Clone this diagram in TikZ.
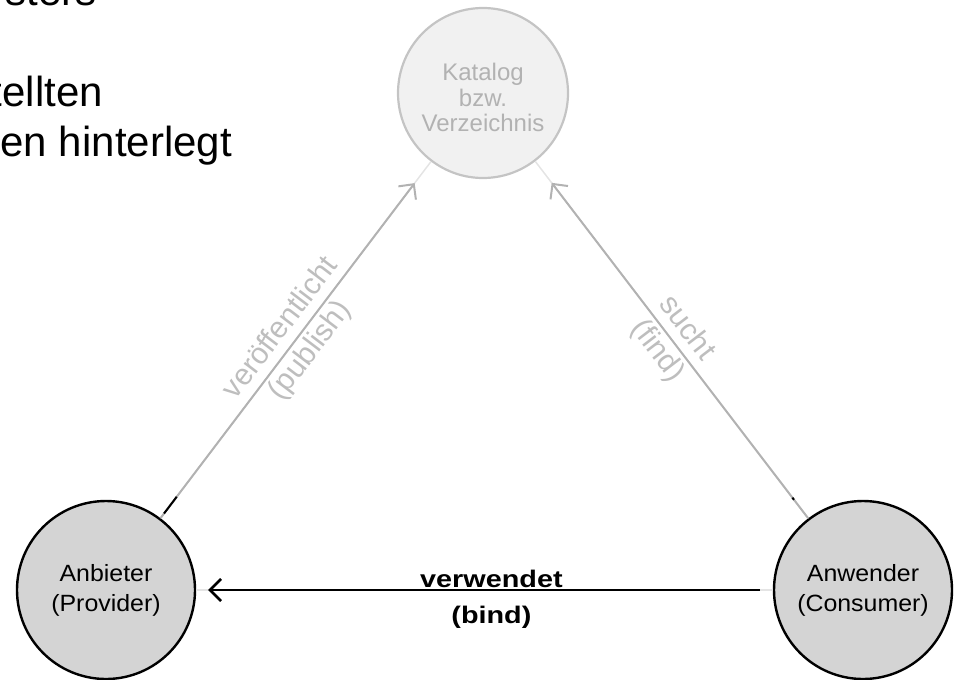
\documentclass[tikz,border=0pt]{standalone}
\usepackage{fontspec}
\setmainfont{Liberation Sans}
\newfontfamily\circfont[FakeStretch=1.06]{Liberation Sans}
\newfontfamily\bindfont[FakeStretch=1.2]{Liberation Sans}
\usetikzlibrary{arrows.meta}

\definecolor{hubfill}{RGB}{212,212,212}
\definecolor{catfill}{RGB}{241,241,241}
\definecolor{catline}{RGB}{196,196,196}
\definecolor{cattext}{RGB}{178,178,178}
\definecolor{linkgray}{RGB}{178,178,178}
\definecolor{labelgray}{RGB}{190,190,190}
\definecolor{faint}{RGB}{228,228,228}

\tikzset{
  hub/.style={circle, draw=black, line width=2.4pt, fill=hubfill,
    minimum size=178pt, inner sep=0pt, align=center,
    font={\circfont\fontsize{23.5}{30}\selectfont}},
  catalog/.style={circle, draw=catline, line width=2.2pt, fill=catfill,
    text=cattext, minimum size=170pt, inner sep=0pt, align=center,
    font={\fontsize{24}{25.5}\selectfont}},
  barb/.style={-{Straight Barb[length=11pt,width=22pt]}},
  graylink/.style={draw=linkgray, line width=2pt, barb, shorten >=27pt},
  faintlink/.style={draw=faint, line width=1.5pt},
  bindlink/.style={draw=black, line width=2.6pt, barb,
    shorten >=12pt, shorten <=13pt},
  slopelabel/.style={sloped, align=center, text=labelgray, inner sep=0pt,
    font={\fontsize{30}{37}\selectfont}},
  bindlabel/.style={anchor=base, inner sep=0pt,
    font={\bindfont\bfseries\fontsize{24}{28}\selectfont}},
  bodytext/.style={anchor=base east, inner sep=0pt,
    font={\fontsize{42}{50}\selectfont}}
}

\begin{document}
\begin{tikzpicture}[x=1pt, y=-1pt]
\useasboundingbox (0,0) rectangle (957,679);
\clip (0,0) rectangle (957,679);

% text lines running in from the left margin
\node[bodytext] (t1) at (97,6)    {sters};
\node[bodytext] (t2) at (103,107) {tellten};
\node[bodytext] (t3) at (232,157) {en hinterlegt};

% the three roles
\node[catalog] (kat) at (483,93)  {\rule{0pt}{27pt}Katalog\\bzw.\\Verzeichnis};
\node[hub]     (anb) at (106,590) {Anbieter\\(Provider)};
\node[hub]     (anw) at (863,590) {Anwender\\(Consumer)};

% faint full-length traces under the connectors
\draw[faintlink] (anb) -- (kat);
\draw[faintlink] (anw) -- (kat);
\draw[faintlink] (anw) -- (anb);

% publish
\draw[graylink] (anb) -- (kat)
  node[slopelabel, pos=0.5] {veröffentlicht\\(publish)};
\path (anb) -- (kat) coordinate[pos=0.013] (pa) coordinate[pos=0.06] (pb);
\draw[black, line width=2pt] (pa) -- (pb);

% find
\draw[graylink] (anw) -- (kat)
  node[slopelabel, pos=0.5] {sucht\\(find)};
\path (anw) -- (kat) coordinate[pos=0.052] (fa) coordinate[pos=0.058] (fb);
\draw[black, line width=2pt] (fa) -- (fb);

% bind
\draw[bindlink] (anw) -- (anb)
  node[bindlabel, pos=0.488, yshift=3pt] {verwendet}
  node[bindlabel, pos=0.488, yshift=-33pt] {(bind)};
\end{tikzpicture}
\end{document}
